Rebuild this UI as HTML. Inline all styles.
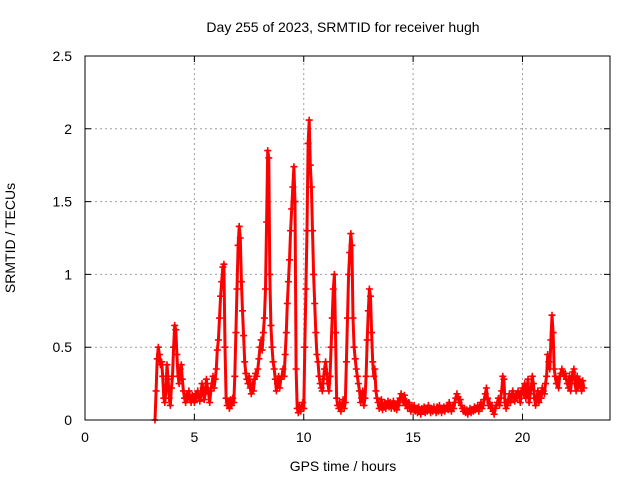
<!DOCTYPE html>
<html><head><meta charset="utf-8"><style>
body{margin:0;background:#fff}
svg{display:block;font-family:"Liberation Sans",Arial,sans-serif}
</style></head><body>
<svg id="chart" width="640" height="480" viewBox="0 0 640 480">
<rect x="0" y="0" width="640" height="480" fill="#fff"/>
<g id="grid"></g>
<g id="marks"></g>
<rect x="85" y="56" width="525" height="364" fill="none" stroke="#000" stroke-width="1"/>
<g id="ticks"></g>
<text x="343" y="32" text-anchor="middle" font-size="14">Day 255 of 2023, SRMTID for receiver hugh</text>
<text x="343" y="471" text-anchor="middle" font-size="14">GPS time / hours</text>
<text x="15" y="238" text-anchor="middle" font-size="14" transform="rotate(-90 15 238)">SRMTID / TECUs</text>
</svg>
<script>
const xTicks=[0,5,10,15,20];
const yTicks=[0,0.5,1,1.5,2,2.5];
const yTickLabels=["0","0.5","1","1.5","2","2.5"];
const tStart=3.2;
const tStep=0.05;
const values=[
0.0,0.2,0.42,0.5,0.45,0.38,0.4,0.3,0.15,0.12,0.2,0.38,0.28,0.15,0.1,0.22,
0.3,0.5,0.65,0.62,0.45,0.3,0.25,0.35,0.38,0.28,0.2,0.15,0.12,0.18,0.15,0.2,0.14,0.12,0.17,0.15,
0.12,0.18,0.15,0.2,0.16,0.13,0.17,0.25,0.22,0.14,0.18,0.28,0.22,0.18,0.12,0.2,0.25,0.3,0.22,0.28,
0.35,0.48,0.55,0.7,0.85,0.95,1.05,1.07,0.5,0.15,0.1,0.12,0.08,0.14,0.1,0.15,0.12,0.3,0.6,0.9,
1.2,1.33,1.25,0.95,0.75,0.58,0.4,0.32,0.28,0.25,0.3,0.22,0.18,0.25,0.2,0.28,0.32,0.3,0.35,0.42,
0.5,0.55,0.48,0.6,0.7,0.9,1.36,1.85,1.8,1.0,0.65,0.5,0.4,0.35,0.28,0.2,0.25,0.3,0.22,0.28,
0.3,0.35,0.3,0.45,0.6,0.8,0.95,1.1,1.3,1.45,1.6,1.74,1.5,0.35,0.08,0.05,0.1,0.06,0.08,0.12,
0.08,0.5,0.9,1.3,1.9,2.06,1.75,1.6,1.3,1.0,0.8,0.6,0.45,0.4,0.3,0.25,0.22,0.2,0.28,0.35,
0.4,0.32,0.25,0.2,0.3,0.5,0.7,0.9,1.0,0.6,0.15,0.1,0.08,0.12,0.06,0.1,0.14,0.08,0.12,0.4,
0.7,1.0,1.15,1.28,1.2,0.7,0.5,0.42,0.35,0.3,0.25,0.2,0.12,0.15,0.2,0.1,0.15,0.3,0.55,0.75,
0.9,0.85,0.6,0.4,0.3,0.35,0.2,0.15,0.12,0.08,0.1,0.14,0.07,0.1,0.12,0.08,0.1,0.13,0.09,0.12,
0.08,0.1,0.13,0.08,0.11,0.07,0.12,0.1,0.15,0.18,0.15,0.12,0.17,0.1,0.13,0.08,0.12,0.09,0.06,0.1,
0.07,0.1,0.06,0.08,0.05,0.09,0.07,0.04,0.08,0.06,0.09,0.05,0.08,0.06,0.1,0.07,0.05,0.08,0.06,0.09,
0.07,0.05,0.09,0.06,0.1,0.08,0.05,0.07,0.09,0.06,0.08,0.1,0.07,0.12,0.09,0.06,0.1,0.08,0.12,0.15,
0.18,0.16,0.12,0.14,0.1,0.08,0.06,0.08,0.05,0.07,0.04,0.06,0.08,0.05,0.07,0.06,0.09,0.07,0.08,0.1,
0.06,0.09,0.12,0.08,0.1,0.14,0.18,0.22,0.15,0.1,0.12,0.08,0.1,0.06,0.04,0.08,0.1,0.12,0.15,0.1,
0.15,0.2,0.3,0.28,0.12,0.08,0.1,0.14,0.18,0.12,0.15,0.2,0.16,0.13,0.18,0.15,0.2,0.17,0.12,0.2,
0.22,0.18,0.25,0.15,0.2,0.28,0.12,0.18,0.22,0.3,0.25,0.15,0.1,0.14,0.2,0.12,0.18,0.15,0.22,0.2,
0.18,0.25,0.3,0.45,0.4,0.35,0.55,0.72,0.6,0.35,0.3,0.25,0.28,0.22,0.3,0.32,0.35,0.33,0.3,0.32,
0.28,0.25,0.22,0.3,0.2,0.28,0.33,0.35,0.25,0.2,0.3,0.22,0.28,0.25,0.2,0.27,0.22
];
const X0=85,X1=610,Y0=420,Y1=56,XMAX=24,YMAX=2.5;
const xs=t=>X0+(X1-X0)*t/XMAX;
const ys=v=>Y0-(Y0-Y1)*v/YMAX;
const NS="http://www.w3.org/2000/svg";
const grid=document.getElementById('grid'),ticks=document.getElementById('ticks'),marks=document.getElementById('marks');
function mk(tag,attrs,parent){const e=document.createElementNS(NS,tag);for(const k in attrs)e.setAttribute(k,attrs[k]);parent.appendChild(e);return e;}
xTicks.forEach(t=>{
  const x=xs(t);
  if(t>0){const g=mk('line',{x1:x,x2:x,y1:Y0,y2:Y1,stroke:'#a0a0a0','stroke-dasharray':'2,3'},grid);
  
  }
  const tk=mk('path',{d:`M${x},${Y0}v-6M${x},${Y1}v6`,stroke:'#000'},ticks);
  
  
  const lb=mk('text',{x:x,y:Y0+22,'text-anchor':'middle','font-size':'14'},ticks);
  lb.textContent=String(t);
  
  
});
yTicks.forEach((v,i)=>{
  const y=ys(v);
  if(v>0&&v<YMAX){const g=mk('line',{x1:X0,x2:X1,y1:y,y2:y,stroke:'#a0a0a0','stroke-dasharray':'2,3'},grid);
  
  }
  const tk=mk('path',{d:`M${X0},${y}h6M${X1},${y}h-6`,stroke:'#000'},ticks);
  
  
  const lb=mk('text',{x:X0-13,y:y+5,'text-anchor':'end','font-size':'14'},ticks);
  lb.textContent=yTickLabels[i];
  
  
});
let d='',line='';
values.forEach((v,i)=>{const x=xs(tStart+i*tStep),y=ys(v);
  d+=`M${(x-3.5).toFixed(1)},${y.toFixed(1)}h7M${x.toFixed(1)},${(y-3.5).toFixed(1)}v7`;
  line+=(i?'L':'M')+x.toFixed(1)+','+y.toFixed(1);});
const ln=mk('path',{d:line,stroke:'#ff0000','stroke-width':'3',fill:'none','stroke-linejoin':'round'},marks);


const p=mk('path',{d:d,stroke:'#ff0000','stroke-width':'1.6',fill:'none'},marks);


</script>
</body></html>
